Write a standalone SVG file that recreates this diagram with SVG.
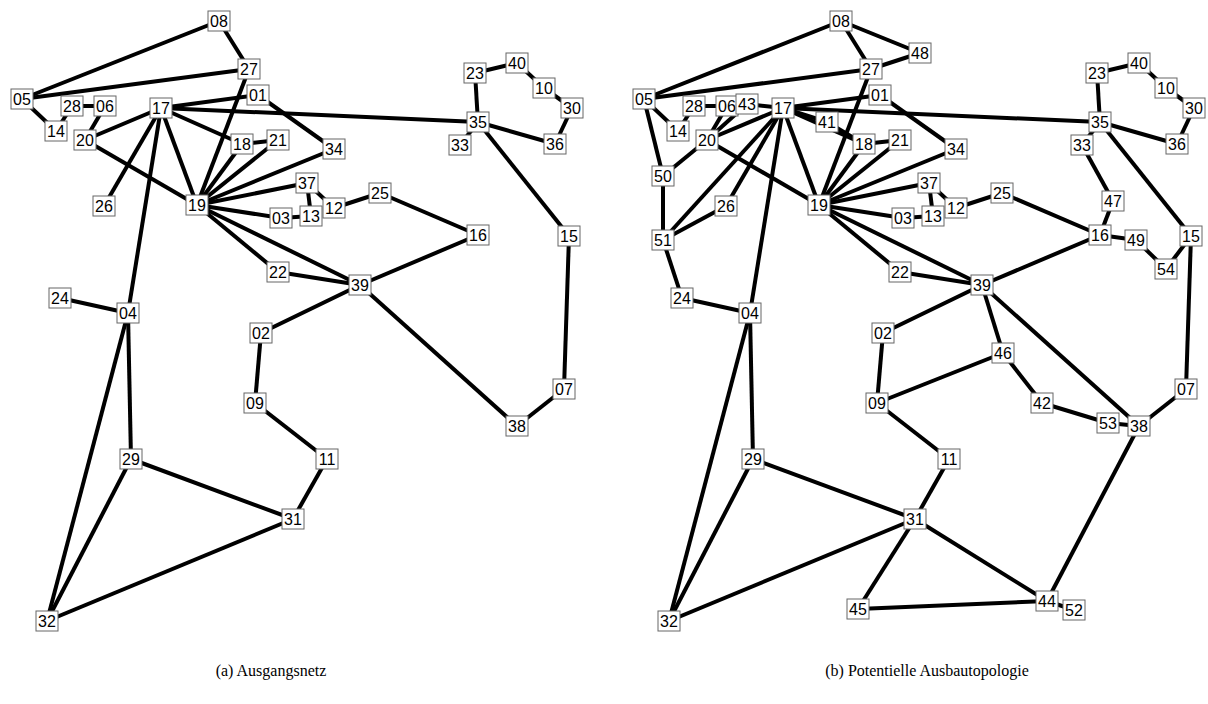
<svg xmlns="http://www.w3.org/2000/svg" width="1208" height="704" viewBox="0 0 1208 704">
<style>
.e line{stroke:#000;stroke-width:4;stroke-linecap:butt}
.n text{font-family:"Liberation Sans",Arial,sans-serif;font-size:16px;text-anchor:middle;fill:#000}
.cap{font-family:"Liberation Serif","Times New Roman",serif;font-size:16px;text-anchor:middle;fill:#000}
</style>
<defs>
<rect id="box" x="-11" y="-10" width="22" height="20" fill="#fff" stroke="#666" stroke-width="1"/>
</defs>
<rect width="1208" height="704" fill="#fff"/>

<!-- Panel (a) -->
<g id="panel-a">
<g id="a-edges" class="e">
<line x1="22" y1="99" x2="219" y2="21"/>
<line x1="219" y1="21" x2="249" y2="69"/>
<line x1="22" y1="99" x2="249" y2="69"/>
<line x1="249" y1="69" x2="197" y2="205"/>
<line x1="22" y1="99" x2="56" y2="131"/>
<line x1="56" y1="131" x2="72" y2="106"/>
<line x1="72" y1="106" x2="105" y2="106"/>
<line x1="105" y1="106" x2="85" y2="140"/>
<line x1="85" y1="140" x2="161" y2="108"/>
<line x1="85" y1="140" x2="197" y2="205"/>
<line x1="161" y1="108" x2="258" y2="95"/>
<line x1="161" y1="108" x2="478" y2="122"/>
<line x1="161" y1="108" x2="242" y2="144"/>
<line x1="161" y1="108" x2="197" y2="205"/>
<line x1="161" y1="108" x2="104" y2="206"/>
<line x1="161" y1="108" x2="128" y2="313"/>
<line x1="258" y1="95" x2="334" y2="149"/>
<line x1="242" y1="144" x2="278" y2="140"/>
<line x1="242" y1="144" x2="197" y2="205"/>
<line x1="278" y1="140" x2="197" y2="205"/>
<line x1="334" y1="149" x2="197" y2="205"/>
<line x1="307" y1="183" x2="197" y2="205"/>
<line x1="281" y1="218" x2="197" y2="205"/>
<line x1="281" y1="218" x2="311" y2="216"/>
<line x1="311" y1="216" x2="307" y2="183"/>
<line x1="307" y1="183" x2="334" y2="208"/>
<line x1="334" y1="208" x2="380" y2="193"/>
<line x1="380" y1="193" x2="478" y2="235"/>
<line x1="478" y1="235" x2="360" y2="285"/>
<line x1="197" y1="205" x2="278" y2="272"/>
<line x1="197" y1="205" x2="360" y2="285"/>
<line x1="278" y1="272" x2="360" y2="285"/>
<line x1="360" y1="285" x2="261" y2="333"/>
<line x1="360" y1="285" x2="517" y2="426"/>
<line x1="261" y1="333" x2="255" y2="403"/>
<line x1="255" y1="403" x2="327" y2="459"/>
<line x1="327" y1="459" x2="293" y2="519"/>
<line x1="293" y1="519" x2="131" y2="459"/>
<line x1="293" y1="519" x2="47" y2="621"/>
<line x1="131" y1="459" x2="128" y2="313"/>
<line x1="131" y1="459" x2="47" y2="621"/>
<line x1="128" y1="313" x2="47" y2="621"/>
<line x1="128" y1="313" x2="60" y2="298"/>
<line x1="478" y1="122" x2="475" y2="73"/>
<line x1="475" y1="73" x2="517" y2="63"/>
<line x1="517" y1="63" x2="544" y2="88"/>
<line x1="544" y1="88" x2="572" y2="108"/>
<line x1="572" y1="108" x2="555" y2="144"/>
<line x1="478" y1="122" x2="555" y2="144"/>
<line x1="478" y1="122" x2="460" y2="145"/>
<line x1="478" y1="122" x2="569" y2="236"/>
<line x1="569" y1="236" x2="564" y2="389"/>
<line x1="564" y1="389" x2="517" y2="426"/>
</g>
<g id="a-nodes" class="n">
<g id="a08" transform="translate(219,21)"><use href="#box"/><text y="6">08</text></g>
<g id="a27" transform="translate(249,69)"><use href="#box"/><text y="6">27</text></g>
<g id="a05" transform="translate(22,99)"><use href="#box"/><text y="6">05</text></g>
<g id="a28" transform="translate(72,106)"><use href="#box"/><text y="6">28</text></g>
<g id="a06" transform="translate(105,106)"><use href="#box"/><text y="6">06</text></g>
<g id="a14" transform="translate(56,131)"><use href="#box"/><text y="6">14</text></g>
<g id="a20" transform="translate(85,140)"><use href="#box"/><text y="6">20</text></g>
<g id="a17" transform="translate(161,108)"><use href="#box"/><text y="6">17</text></g>
<g id="a01" transform="translate(258,95)"><use href="#box"/><text y="6">01</text></g>
<g id="a18" transform="translate(242,144)"><use href="#box"/><text y="6">18</text></g>
<g id="a21" transform="translate(278,140)"><use href="#box"/><text y="6">21</text></g>
<g id="a34" transform="translate(334,149)"><use href="#box"/><text y="6">34</text></g>
<g id="a26" transform="translate(104,206)"><use href="#box"/><text y="6">26</text></g>
<g id="a19" transform="translate(197,205)"><use href="#box"/><text y="6">19</text></g>
<g id="a37" transform="translate(307,183)"><use href="#box"/><text y="6">37</text></g>
<g id="a12" transform="translate(334,208)"><use href="#box"/><text y="6">12</text></g>
<g id="a03" transform="translate(281,218)"><use href="#box"/><text y="6">03</text></g>
<g id="a13" transform="translate(311,216)"><use href="#box"/><text y="6">13</text></g>
<g id="a25" transform="translate(380,193)"><use href="#box"/><text y="6">25</text></g>
<g id="a16" transform="translate(478,235)"><use href="#box"/><text y="6">16</text></g>
<g id="a22" transform="translate(278,272)"><use href="#box"/><text y="6">22</text></g>
<g id="a39" transform="translate(360,285)"><use href="#box"/><text y="6">39</text></g>
<g id="a02" transform="translate(261,333)"><use href="#box"/><text y="6">02</text></g>
<g id="a09" transform="translate(255,403)"><use href="#box"/><text y="6">09</text></g>
<g id="a15" transform="translate(569,236)"><use href="#box"/><text y="6">15</text></g>
<g id="a07" transform="translate(564,389)"><use href="#box"/><text y="6">07</text></g>
<g id="a38" transform="translate(517,426)"><use href="#box"/><text y="6">38</text></g>
<g id="a23" transform="translate(475,73)"><use href="#box"/><text y="6">23</text></g>
<g id="a40" transform="translate(517,63)"><use href="#box"/><text y="6">40</text></g>
<g id="a10" transform="translate(544,88)"><use href="#box"/><text y="6">10</text></g>
<g id="a30" transform="translate(572,108)"><use href="#box"/><text y="6">30</text></g>
<g id="a35" transform="translate(478,122)"><use href="#box"/><text y="6">35</text></g>
<g id="a33" transform="translate(460,145)"><use href="#box"/><text y="6">33</text></g>
<g id="a36" transform="translate(555,144)"><use href="#box"/><text y="6">36</text></g>
<g id="a24" transform="translate(60,298)"><use href="#box"/><text y="6">24</text></g>
<g id="a04" transform="translate(128,313)"><use href="#box"/><text y="6">04</text></g>
<g id="a29" transform="translate(131,459)"><use href="#box"/><text y="6">29</text></g>
<g id="a11" transform="translate(327,459)"><use href="#box"/><text y="6">11</text></g>
<g id="a31" transform="translate(293,519)"><use href="#box"/><text y="6">31</text></g>
<g id="a32" transform="translate(47,621)"><use href="#box"/><text y="6">32</text></g>
</g>
<text id="cap-a" class="cap" x="271" y="676">(a) Ausgangsnetz</text>
</g>

<!-- Panel (b) -->
<g id="panel-b">
<g id="b-edges" class="e" transform="translate(622,0)">
<line x1="22" y1="99" x2="219" y2="21"/>
<line x1="219" y1="21" x2="249" y2="69"/>
<line x1="22" y1="99" x2="249" y2="69"/>
<line x1="249" y1="69" x2="197" y2="205"/>
<line x1="22" y1="99" x2="56" y2="131"/>
<line x1="56" y1="131" x2="72" y2="106"/>
<line x1="72" y1="106" x2="105" y2="106"/>
<line x1="105" y1="106" x2="85" y2="140"/>
<line x1="85" y1="140" x2="161" y2="108"/>
<line x1="85" y1="140" x2="197" y2="205"/>
<line x1="161" y1="108" x2="258" y2="95"/>
<line x1="161" y1="108" x2="478" y2="122"/>
<line x1="161" y1="108" x2="242" y2="144"/>
<line x1="161" y1="108" x2="197" y2="205"/>
<line x1="161" y1="108" x2="104" y2="206"/>
<line x1="161" y1="108" x2="128" y2="313"/>
<line x1="258" y1="95" x2="334" y2="149"/>
<line x1="242" y1="144" x2="278" y2="140"/>
<line x1="242" y1="144" x2="197" y2="205"/>
<line x1="278" y1="140" x2="197" y2="205"/>
<line x1="334" y1="149" x2="197" y2="205"/>
<line x1="307" y1="183" x2="197" y2="205"/>
<line x1="281" y1="218" x2="197" y2="205"/>
<line x1="281" y1="218" x2="311" y2="216"/>
<line x1="311" y1="216" x2="307" y2="183"/>
<line x1="307" y1="183" x2="334" y2="208"/>
<line x1="334" y1="208" x2="380" y2="193"/>
<line x1="380" y1="193" x2="478" y2="235"/>
<line x1="478" y1="235" x2="360" y2="285"/>
<line x1="197" y1="205" x2="278" y2="272"/>
<line x1="197" y1="205" x2="360" y2="285"/>
<line x1="278" y1="272" x2="360" y2="285"/>
<line x1="360" y1="285" x2="261" y2="333"/>
<line x1="360" y1="285" x2="517" y2="426"/>
<line x1="261" y1="333" x2="255" y2="403"/>
<line x1="255" y1="403" x2="327" y2="459"/>
<line x1="327" y1="459" x2="293" y2="519"/>
<line x1="293" y1="519" x2="131" y2="459"/>
<line x1="293" y1="519" x2="47" y2="621"/>
<line x1="131" y1="459" x2="128" y2="313"/>
<line x1="131" y1="459" x2="47" y2="621"/>
<line x1="128" y1="313" x2="47" y2="621"/>
<line x1="128" y1="313" x2="60" y2="298"/>
<line x1="478" y1="122" x2="475" y2="73"/>
<line x1="475" y1="73" x2="517" y2="63"/>
<line x1="517" y1="63" x2="544" y2="88"/>
<line x1="544" y1="88" x2="572" y2="108"/>
<line x1="572" y1="108" x2="555" y2="144"/>
<line x1="478" y1="122" x2="555" y2="144"/>
<line x1="478" y1="122" x2="460" y2="145"/>
<line x1="478" y1="122" x2="569" y2="236"/>
<line x1="569" y1="236" x2="564" y2="389"/>
<line x1="564" y1="389" x2="517" y2="426"/>
<line x1="219" y1="21" x2="298" y2="53"/>
<line x1="249" y1="69" x2="298" y2="53"/>
<line x1="85" y1="140" x2="125" y2="104"/>
<line x1="125" y1="104" x2="161" y2="108"/>
<line x1="161" y1="108" x2="205" y2="122"/>
<line x1="205" y1="122" x2="242" y2="144"/>
<line x1="22" y1="99" x2="41" y2="176"/>
<line x1="41" y1="176" x2="41" y2="240"/>
<line x1="41" y1="176" x2="85" y2="140"/>
<line x1="41" y1="240" x2="161" y2="108"/>
<line x1="41" y1="240" x2="104" y2="206"/>
<line x1="41" y1="240" x2="60" y2="298"/>
<line x1="460" y1="145" x2="491" y2="201"/>
<line x1="491" y1="201" x2="478" y2="235"/>
<line x1="478" y1="235" x2="514" y2="240"/>
<line x1="514" y1="240" x2="544" y2="269"/>
<line x1="544" y1="269" x2="569" y2="236"/>
<line x1="360" y1="285" x2="381" y2="353"/>
<line x1="381" y1="353" x2="255" y2="403"/>
<line x1="381" y1="353" x2="420" y2="403"/>
<line x1="420" y1="403" x2="486" y2="423"/>
<line x1="486" y1="423" x2="517" y2="426"/>
<line x1="517" y1="426" x2="425" y2="601"/>
<line x1="293" y1="519" x2="425" y2="601"/>
<line x1="293" y1="519" x2="236" y2="609"/>
<line x1="236" y1="609" x2="425" y2="601"/>
<line x1="425" y1="601" x2="452" y2="610"/>
</g>
<g id="b-nodes" class="n" transform="translate(622,0)">
<g id="b08" transform="translate(219,21)"><use href="#box"/><text y="6">08</text></g>
<g id="b48" transform="translate(298,53)"><use href="#box"/><text y="6">48</text></g>
<g id="b27" transform="translate(249,69)"><use href="#box"/><text y="6">27</text></g>
<g id="b05" transform="translate(22,99)"><use href="#box"/><text y="6">05</text></g>
<g id="b28" transform="translate(72,106)"><use href="#box"/><text y="6">28</text></g>
<g id="b06" transform="translate(105,106)"><use href="#box"/><text y="6">06</text></g>
<g id="b43" transform="translate(125,104)"><use href="#box"/><text y="6">43</text></g>
<g id="b14" transform="translate(56,131)"><use href="#box"/><text y="6">14</text></g>
<g id="b20" transform="translate(85,140)"><use href="#box"/><text y="6">20</text></g>
<g id="b17" transform="translate(161,108)"><use href="#box"/><text y="6">17</text></g>
<g id="b41" transform="translate(205,122)"><use href="#box"/><text y="6">41</text></g>
<g id="b01" transform="translate(258,95)"><use href="#box"/><text y="6">01</text></g>
<g id="b18" transform="translate(242,144)"><use href="#box"/><text y="6">18</text></g>
<g id="b21" transform="translate(278,140)"><use href="#box"/><text y="6">21</text></g>
<g id="b34" transform="translate(334,149)"><use href="#box"/><text y="6">34</text></g>
<g id="b50" transform="translate(41,176)"><use href="#box"/><text y="6">50</text></g>
<g id="b51" transform="translate(41,240)"><use href="#box"/><text y="6">51</text></g>
<g id="b26" transform="translate(104,206)"><use href="#box"/><text y="6">26</text></g>
<g id="b19" transform="translate(197,205)"><use href="#box"/><text y="6">19</text></g>
<g id="b37" transform="translate(307,183)"><use href="#box"/><text y="6">37</text></g>
<g id="b12" transform="translate(334,208)"><use href="#box"/><text y="6">12</text></g>
<g id="b03" transform="translate(281,218)"><use href="#box"/><text y="6">03</text></g>
<g id="b13" transform="translate(311,216)"><use href="#box"/><text y="6">13</text></g>
<g id="b25" transform="translate(380,193)"><use href="#box"/><text y="6">25</text></g>
<g id="b16" transform="translate(478,235)"><use href="#box"/><text y="6">16</text></g>
<g id="b47" transform="translate(491,201)"><use href="#box"/><text y="6">47</text></g>
<g id="b49" transform="translate(514,240)"><use href="#box"/><text y="6">49</text></g>
<g id="b54" transform="translate(544,269)"><use href="#box"/><text y="6">54</text></g>
<g id="b22" transform="translate(278,272)"><use href="#box"/><text y="6">22</text></g>
<g id="b39" transform="translate(360,285)"><use href="#box"/><text y="6">39</text></g>
<g id="b02" transform="translate(261,333)"><use href="#box"/><text y="6">02</text></g>
<g id="b46" transform="translate(381,353)"><use href="#box"/><text y="6">46</text></g>
<g id="b09" transform="translate(255,403)"><use href="#box"/><text y="6">09</text></g>
<g id="b42" transform="translate(420,403)"><use href="#box"/><text y="6">42</text></g>
<g id="b53" transform="translate(486,423)"><use href="#box"/><text y="6">53</text></g>
<g id="b15" transform="translate(569,236)"><use href="#box"/><text y="6">15</text></g>
<g id="b07" transform="translate(564,389)"><use href="#box"/><text y="6">07</text></g>
<g id="b38" transform="translate(517,426)"><use href="#box"/><text y="6">38</text></g>
<g id="b23" transform="translate(475,73)"><use href="#box"/><text y="6">23</text></g>
<g id="b40" transform="translate(517,63)"><use href="#box"/><text y="6">40</text></g>
<g id="b10" transform="translate(544,88)"><use href="#box"/><text y="6">10</text></g>
<g id="b30" transform="translate(572,108)"><use href="#box"/><text y="6">30</text></g>
<g id="b35" transform="translate(478,122)"><use href="#box"/><text y="6">35</text></g>
<g id="b33" transform="translate(460,145)"><use href="#box"/><text y="6">33</text></g>
<g id="b36" transform="translate(555,144)"><use href="#box"/><text y="6">36</text></g>
<g id="b24" transform="translate(60,298)"><use href="#box"/><text y="6">24</text></g>
<g id="b04" transform="translate(128,313)"><use href="#box"/><text y="6">04</text></g>
<g id="b29" transform="translate(131,459)"><use href="#box"/><text y="6">29</text></g>
<g id="b11" transform="translate(327,459)"><use href="#box"/><text y="6">11</text></g>
<g id="b31" transform="translate(293,519)"><use href="#box"/><text y="6">31</text></g>
<g id="b44" transform="translate(425,601)"><use href="#box"/><text y="6">44</text></g>
<g id="b52" transform="translate(452,610)"><use href="#box"/><text y="6">52</text></g>
<g id="b45" transform="translate(236,609)"><use href="#box"/><text y="6">45</text></g>
<g id="b32" transform="translate(47,621)"><use href="#box"/><text y="6">32</text></g>
</g>
<text id="cap-b" class="cap" x="927" y="676">(b) Potentielle Ausbautopologie</text>
</g>
</svg>
